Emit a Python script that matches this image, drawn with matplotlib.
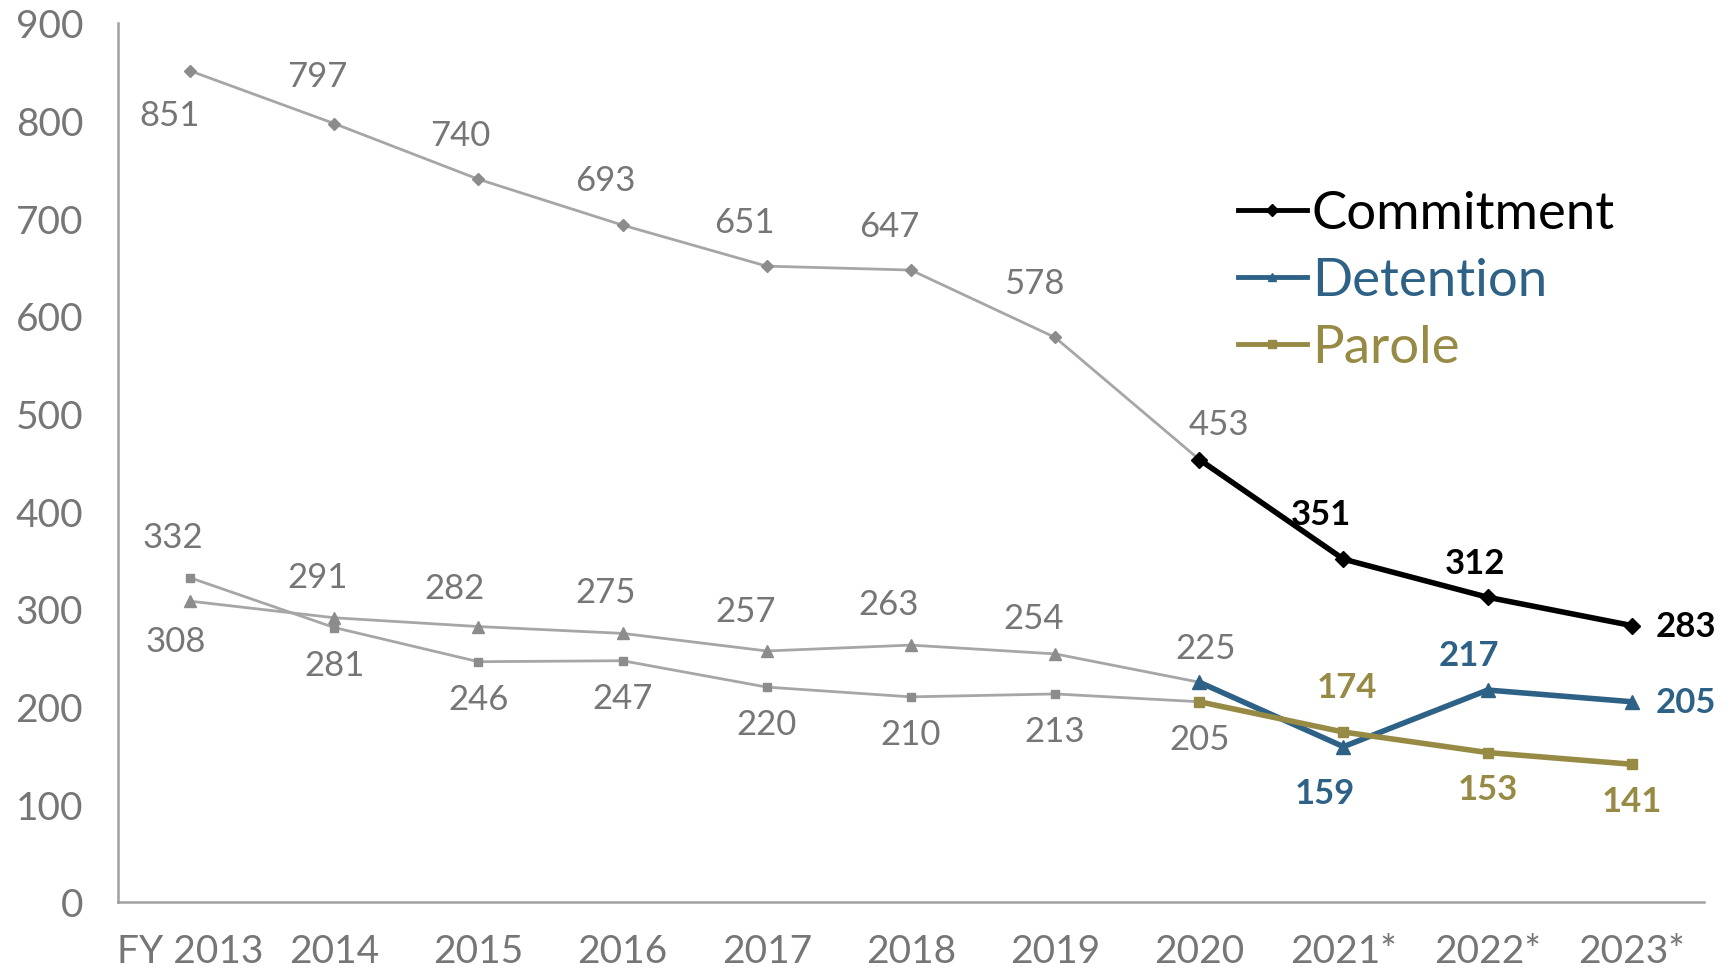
import matplotlib
matplotlib.use("Agg")
import matplotlib.pyplot as plt

plt.rcParams['font.family'] = ['Lato', 'DejaVu Sans']

years = ['FY 2013', '2014', '2015', '2016', '2017', '2018', '2019', '2020',
         '2021*', '2022*', '2023*']
commitment = [851, 797, 740, 693, 651, 647, 578, 453, 351, 312, 283]
detention = [308, 291, 282, 275, 257, 263, 254, 225, 159, 217, 205]
parole = [332, 281, 246, 247, 220, 210, 213, 205, 174, 153, 141]

# label offsets in pixels (dx, dy), dy positive = upward
commit_off = [(-20, -44), (-17, 48), (-18, 44), (-17, 45), (-22, 44), (-22, 44),
              (-21, 54), (20, 36), (-23, 45), (-13, 34), (54, 0)]
detent_off = [(-14, -40), (-17, 41), (-24, 39), (-17, 41), (-21, 40), (-22, 41),
              (-21, 36), (6, 34), (-19, -46), (-19, 35), (54, 0)]
parole_off = [(-17, 41), (0, -37), (0, -37), (0, -37), (0, -37), (0, -37),
              (0, -37), (0, -37), (3, 45), (0, -36), (0, -37)]

GRAY_LINE = '#A6A6A6'
GRAY_MARK = '#8C8C8C'
GRAY_TEXT = '#767676'
split = 7  # FY 2020: recent years drawn in colour from here on

series = [
    ('Commitment', commitment, 'D', 6, '#000000', commit_off),
    ('Detention', detention, '^', 8, '#2E6186', detent_off),
    ('Parole', parole, 's', 5.5, '#978A45', parole_off),
]

fig = plt.figure(figsize=(17.29, 9.70), dpi=100)
ax = fig.add_axes([0.0682, 0.0691, 0.9173, 0.9062])
x = list(range(len(years)))

for name, vals, mk, ms, col, offs in series:
    ax.plot(x[:split + 1], vals[:split + 1], color=GRAY_LINE, lw=2,
            marker=mk, ms=ms, mfc=GRAY_MARK, mec=GRAY_MARK,
            markevery=list(range(split)), zorder=2)
    ax.plot(x[split:], vals[split:], color=col, lw=4, marker=mk, ms=ms + 2,
            mfc=col, mec=col, label=name, zorder=3)
    for i, v in enumerate(vals):
        recent = i > split
        ax.annotate(str(v), (i, v), xytext=offs[i], textcoords='offset pixels',
                    ha='center', va='center', fontsize=25,
                    color=col if recent else GRAY_TEXT,
                    fontweight='bold' if recent else 'normal')

ax.set_xlim(-0.5, len(years) - 0.5)
ax.set_ylim(0, 900)
ax.set_yticks(range(0, 901, 100))
ax.set_xticks(x)
ax.set_xticklabels(years)
ax.tick_params(length=0, labelsize=28, colors=GRAY_TEXT)
ax.tick_params(axis='y', pad=25)
ax.tick_params(axis='x', pad=22)
for s in ['top', 'right']:
    ax.spines[s].set_visible(False)
for s in ['left', 'bottom']:
    ax.spines[s].set_color('#A0A0A0')
    ax.spines[s].set_linewidth(1.8)

leg = ax.legend(loc='upper left', bbox_to_anchor=(0.716, 0.803),
                bbox_transform=fig.transFigure, frameon=False, fontsize=38,
                handlelength=1.3, handletextpad=0.1, labelspacing=0.38,
                borderpad=0, borderaxespad=0, labelcolor='linecolor')
for h in leg.legend_handles:
    h.set_linewidth(3.5)
    h.set_markersize(6)

fig.savefig('out.png', dpi=100)
